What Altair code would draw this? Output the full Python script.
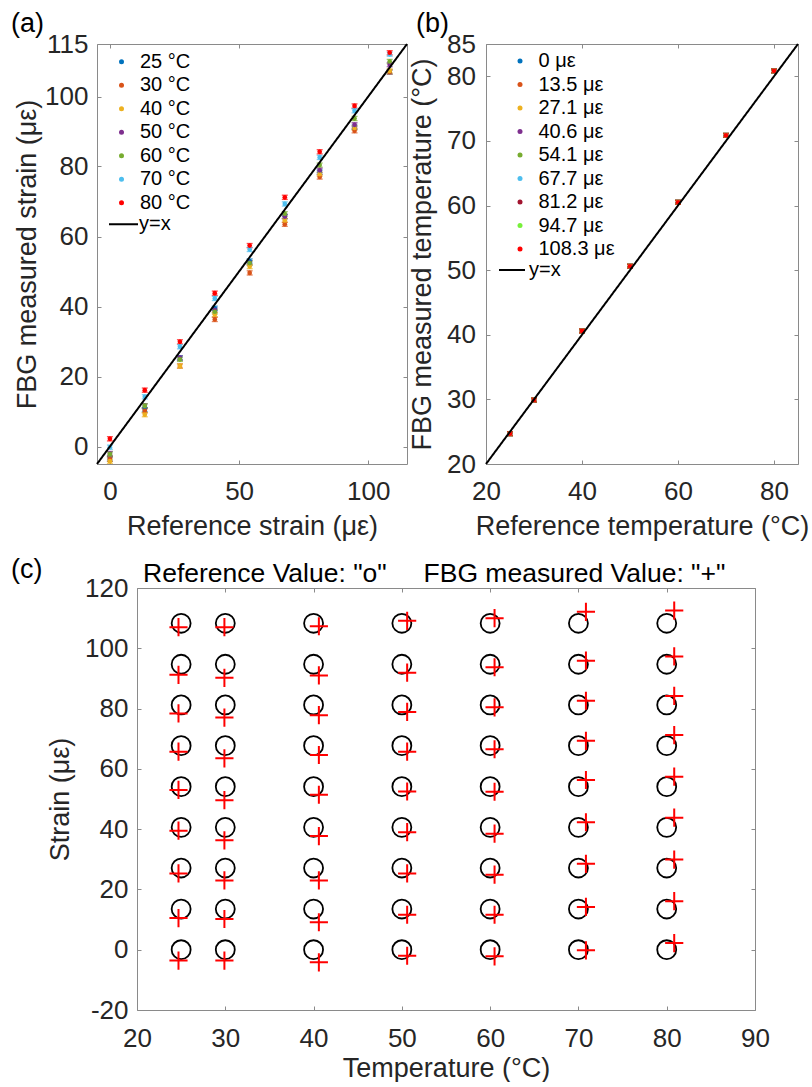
import altair as alt
import pandas as pd

# ---------------- data ----------------
temps = [25, 30, 40, 50, 60, 70, 80]
temp_labels = ["25 °C", "30 °C", "40 °C", "50 °C", "60 °C", "70 °C", "80 °C"]
ref_strains = [0, 13.5, 27.1, 40.6, 54.1, 67.7, 81.2, 94.7, 108.3]
strain_labels = ["0 με", "13.5 με", "27.1 με", "40.6 με", "54.1 με",
                 "67.7 με", "81.2 με", "94.7 με", "108.3 με"]

# FBG measured strain at each reference strain, one list per temperature
strain_25C = [-3.6, 10.5, 25.3, 39.5, 53.0, 65.7, 78.4, 91.2, 107.0]
strain_30C = [-3.6, 10.2, 23.0, 36.3, 49.6, 63.5, 77.0, 90.2, 107.0]
strain_40C = [-4.2, 9.1, 23.0, 37.7, 51.4, 64.6, 77.8, 91.0, 107.3]
strain_50C = [-2.0, 11.6, 25.3, 39.0, 52.5, 65.7, 78.9, 91.9, 109.1]
strain_60C = [-2.2, 11.6, 24.9, 38.5, 52.4, 66.5, 80.4, 93.7, 110.0]
strain_70C = [-0.2, 14.2, 28.5, 42.3, 56.3, 69.3, 82.6, 95.9, 112.1]
strain_80C = [2.2, 16.1, 29.9, 43.8, 57.4, 71.2, 84.2, 97.3, 112.5]
measured_strain = [strain_25C, strain_30C, strain_40C, strain_50C,
                   strain_60C, strain_70C, strain_80C]

# FBG measured temperature at each reference temperature
measured_temp = [24.7, 29.9, 40.6, 50.6, 60.5, 70.85, 80.85]

strain_err = 0.6
temp_err = 0.3

colors_a = ["#0072BD", "#D95319", "#EDB120", "#7E2F8E", "#77AC30", "#4DBEEE", "#FF0000"]
colors_b = ["#0072BD", "#D95319", "#EDB120", "#7E2F8E", "#77AC30", "#4DBEEE",
            "#A2142F", "#77F03A", "#FF0000"]

# ---------------- tables ----------------
rows_a = []
for i, t in enumerate(temps):
    for j, s in enumerate(ref_strains):
        m = measured_strain[i][j]
        rows_a.append({"ref": s, "meas": m, "lo": m - strain_err, "hi": m + strain_err,
                       "series": temp_labels[i]})
df_a = pd.DataFrame(rows_a)

rows_b = []
for j, s in enumerate(ref_strains):
    for i, t in enumerate(temps):
        m = measured_temp[i]
        rows_b.append({"ref": t, "meas": m, "lo": m - temp_err, "hi": m + temp_err,
                       "series": strain_labels[j]})
df_b = pd.DataFrame(rows_b)

rows_cr, rows_cm = [], []
for i, t in enumerate(temps):
    for j, s in enumerate(ref_strains):
        rows_cr.append({"T": t, "S": s})
        rows_cm.append({"T": measured_temp[i], "S": measured_strain[i][j]})
df_c_ref = pd.DataFrame(rows_cr)
df_c_meas = pd.DataFrame(rows_cm)

line_a = pd.DataFrame({"x": [-5, 115], "y": [-5, 115], "label": ["y=x", "y=x"]})
line_b = pd.DataFrame({"x": [20, 85], "y": [20, 85], "label": ["y=x", "y=x"]})

# ---------------- style ----------------
FONT = "Liberation Sans"
AX = "#8a8a8a"
TXT = "#262626"
TICK = 4


def make_axis(values, title, length, label_pad, title_pad):
    return alt.Axis(values=values, title=title, grid=True, gridColor=AX, gridWidth=1,
                    gridOpacity=1, gridDash=[TICK, length - 2 * TICK, TICK, length],
                    ticks=False, tickSize=0, domain=False,
                    labelFont=FONT, labelFontSize=26, labelColor=TXT, labelPadding=label_pad,
                    labelExpr="'' + datum.value", labelFlush=False, labelOverlap=False,
                    titleFont=FONT, titleFontSize=27, titleFontWeight="normal",
                    titleColor=TXT, titlePadding=title_pad)


def panel_label(text, dx, dy):
    return alt.Chart(pd.DataFrame({"t": [text]})).mark_text(
        align="left", baseline="alphabetic", fontSize=27, font=FONT, color="black"
    ).encode(text="t:N", x=alt.value(dx), y=alt.value(dy))


def scatter_panel(df, line_df, dom, xvals, yvals, xtitle, ytitle, w, h,
                  labels, colors, leg, yleg, ylab_pad, ytitle_pad, tag, tag_dx):
    sc = alt.Scale(domain=dom, nice=False, zero=False)
    xax = make_axis(xvals, xtitle, h, 14, 9)
    yax = make_axis(yvals, ytitle, w, ylab_pad, ytitle_pad)
    cscale = alt.Scale(domain=labels, range=colors)
    base = alt.Chart(df)
    X = lambda f: alt.X(f, type="quantitative", scale=sc, axis=xax)
    Y = lambda f: alt.Y(f, type="quantitative", scale=sc, axis=yax)
    bars = base.mark_rule(strokeWidth=1.3).encode(
        x=X("ref"), y=Y("lo"), y2="hi:Q", color=alt.Color("series:N", scale=cscale, legend=None))
    cap_lo = base.mark_tick(orient="horizontal", size=6, thickness=1.3).encode(
        x=X("ref"), y=Y("lo"), color=alt.Color("series:N", scale=cscale, legend=None))
    cap_hi = base.mark_tick(orient="horizontal", size=6, thickness=1.3).encode(
        x=X("ref"), y=Y("hi"), color=alt.Color("series:N", scale=cscale, legend=None))
    pts = base.mark_circle(size=22, opacity=1).encode(
        x=X("ref"), y=Y("meas"),
        color=alt.Color("series:N", scale=cscale, legend=alt.Legend(
            title=None, orient="none", legendX=leg[0], legendY=leg[1], padding=0,
            symbolType="circle", symbolSize=25, symbolStrokeWidth=0,
            labelFont=FONT, labelFontSize=20, labelColor="black",
            labelOffset=leg[2], rowPadding=3.5)))
    ln = alt.Chart(line_df).mark_line(color="black", strokeWidth=2).encode(
        x=X("x"), y=Y("y"),
        strokeDash=alt.StrokeDash("label:N", legend=alt.Legend(
            title=None, orient="none", legendX=yleg[0], legendY=yleg[1], padding=0,
            symbolType="stroke", symbolSize=yleg[2], symbolStrokeWidth=2,
            symbolStrokeColor="black",
            labelFont=FONT, labelFontSize=20, labelColor="black", labelOffset=yleg[3])))
    return alt.layer(bars, cap_lo, cap_hi, pts, ln, panel_label(tag, tag_dx, -12)).resolve_scale(
        color="independent").resolve_legend(color="independent").properties(width=w, height=h)


H_TOP = 420
chart_a = scatter_panel(df_a, line_a, [-5, 115], [0, 50, 100], [0, 20, 40, 60, 80, 100, 115],
                        "Reference strain (με)", "FBG measured strain (με)", 310, H_TOP,
                        temp_labels, colors_a, (14.5, 7.7, 8.5), (11, 164.7, 841, 0), 9, 3,
                        "(a)", -86)
chart_b = scatter_panel(df_b, line_b, [20, 85], [20, 40, 60, 80], [20, 30, 40, 50, 60, 70, 80, 85],
                        "Reference temperature (°C)", "FBG measured temperature (°C)", 312, H_TOP,
                        strain_labels, colors_b, (24, 7, 8.5), (12, 212, 676, 3), 10.5, 10,
                        "(b)", -70)

# ---------------- panel (c) ----------------
W_C, H_C = 618, 422
sx_c = alt.Scale(domain=[20, 90], nice=False, zero=False)
sy_c = alt.Scale(domain=[-20, 120], nice=False, zero=False)
xax_c = make_axis(list(range(20, 91, 10)), "Temperature (°C)", H_C, 15, 4)
yax_c = make_axis(list(range(-20, 121, 20)), "Strain (με)", W_C, 9, 10)

circ = alt.Chart(df_c_ref).mark_point(shape="circle", size=360, filled=False, color="black",
                                       strokeWidth=1.8, opacity=1).encode(
    x=alt.X("T:Q", scale=sx_c, axis=xax_c), y=alt.Y("S:Q", scale=sy_c, axis=yax_c))
plus = alt.Chart(df_c_meas).mark_point(shape="M -1 0 L 1 0 M 0 -1 L 0 1", size=330,
                                        filled=False, color="#FF0000", strokeWidth=2,
                                        opacity=1).encode(
    x=alt.X("T:Q", scale=sx_c, axis=xax_c), y=alt.Y("S:Q", scale=sy_c, axis=yax_c))
title_c = alt.Chart(pd.DataFrame({"t": ['Reference Value: "o"\u00a0\u00a0\u00a0\u00a0 FBG measured Value: "+"']})).mark_text(
    align="left", baseline="alphabetic", fontSize=26.5, font=FONT, color="black"
).encode(text="t:N", x=alt.value(6), y=alt.value(-6))

chart_c = alt.layer(circ, plus, title_c, panel_label("(c)", -126, -10)).properties(
    width=W_C, height=H_C)

spacer = alt.Chart(pd.DataFrame({"v": [0]})).mark_point(opacity=0).encode(
    x=alt.value(0), y=alt.value(0)).properties(
    width=40, height=H_C, view=alt.ViewBackground(stroke="transparent"))

top = alt.hconcat(chart_a, chart_b, spacing=79, bounds="flush").resolve_scale(
    strokeDash="independent", color="independent").resolve_legend(
    strokeDash="independent", color="independent")
bottom = alt.hconcat(spacer, chart_c, spacing=0, bounds="flush")
chart = alt.vconcat(top, bottom, spacing=15).properties(
    padding={"left": 10, "top": 9, "right": 0, "bottom": 0},
    background="white",
).configure_view(stroke=AX, strokeWidth=1)

chart.save("out.html", embed_options={"renderer": "svg", "actions": False})
